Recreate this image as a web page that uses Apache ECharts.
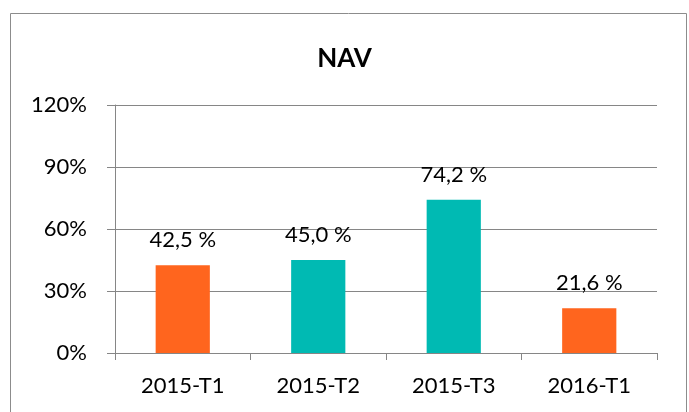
<!DOCTYPE html>
<html>
<head>
<meta charset="utf-8">
<script src="https://cdn.jsdelivr.net/npm/echarts@6/dist/echarts.min.js"></script>
<style>
  html, body { margin: 0; padding: 0; background: #fff; }
  #chart { width: 689px; height: 412px; }
</style>
</head>
<body>
<div id="chart"></div>
<script>
// data
const categories = ['2015-T1', '2015-T2', '2015-T3', '2016-T1']
const navValues = [42.5, 45.0, 74.2, 21.6]
const barColors = ['#FF651E', '#00BAB3', '#00BAB3', '#FF651E']
const yTicks = [0, 30, 60, 90, 120]

const font = 'Lato, "Open Sans", sans-serif'

const myChart = echarts.init(document.getElementById('chart'))
myChart.setOption({
  animation: false,
  textStyle: { fontFamily: font },
  graphic: [{
    type: 'rect',
    shape: { x: 10.5, y: 13.5, width: 676, height: 420 },
    style: { fill: 'none', stroke: '#8c8c8c', lineWidth: 1 },
    silent: true
  }],
  title: {
    text: 'NAV',
    left: 'center',
    top: 41,
    textStyle: { fontFamily: font, fontWeight: 'bold', fontSize: 26, color: '#000' }
  },
  grid: { left: 115, right: 32, top: 105, bottom: 59 },
  xAxis: {
    type: 'category',
    data: categories,
    axisLine: { lineStyle: { color: '#868686' } },
    axisTick: { show: true, length: 7, lineStyle: { color: '#868686' } },
    axisLabel: { color: '#000', fontSize: 22, margin: 22 }
  },
  yAxis: {
    type: 'value',
    min: yTicks[0],
    max: yTicks[yTicks.length - 1],
    interval: 30,
    axisLine: { show: true, lineStyle: { color: '#868686' } },
    axisTick: { show: true, length: 8, lineStyle: { color: '#868686' } },
    splitLine: { lineStyle: { color: '#868686' } },
    axisLabel: { color: '#000', fontSize: 22, margin: 28, formatter: '{value}%' }
  },
  series: [{
    type: 'bar',
    barWidth: '40%',
    data: navValues.map((v, i) => ({ value: v, itemStyle: { color: barColors[i] } })),
    label: {
      show: true,
      position: 'top',
      distance: 14,
      color: '#000',
      fontSize: 22,
      formatter: p => p.value.toFixed(1).replace('.', ',') + ' %'
    }
  }]
})
</script>
</body>
</html>
